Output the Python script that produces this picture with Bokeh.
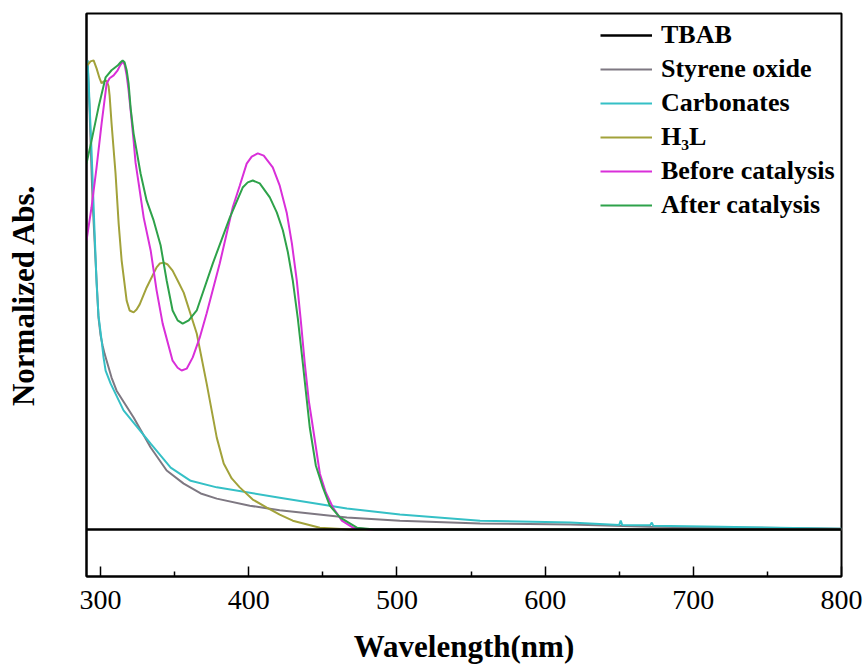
from bokeh.plotting import figure
from bokeh.models import Range1d, FixedTicker, Legend, LegendItem
from bokeh.embed import file_html
from bokeh.resources import INLINE

# ---- data (wavelength in nm, normalized absorbance) ----
wl_tbab = [290.5, 800.0]
ab_tbab = [0.0, 0.0]

wl_styrene = [291.2, 292.6, 293.2, 294.6, 296.6, 298.6, 300.0, 301.4, 302.7, 304.1,
              307.4, 310.8, 322.3, 333.8, 344.6, 356.1, 367.6, 378.4, 400.7, 420.9,
              466.2, 502.0, 556.1, 616.9, 670.9, 738.5, 800.0]
ab_styrene = [1.000, 0.893, 0.829, 0.701, 0.574, 0.452, 0.414, 0.392, 0.375, 0.360,
              0.324, 0.296, 0.239, 0.175, 0.126, 0.098, 0.077, 0.066, 0.051, 0.041,
              0.026, 0.019, 0.013, 0.011, 0.006, 0.004, 0.002]

wl_carb = [291.2, 291.9, 293.9, 295.9, 297.3, 298.6, 300.7, 302.0, 303.4, 306.8,
           315.5, 333.8, 347.3, 360.8, 378.4, 420.9, 466.2, 502.0, 556.1, 616.9,
           650.0, 651.0, 652.0, 670.9, 672.0, 673.0, 718.2, 800.0]
ab_carb = [1.000, 0.957, 0.808, 0.638, 0.525, 0.456, 0.403, 0.367, 0.339, 0.311,
           0.254, 0.183, 0.132, 0.104, 0.090, 0.068, 0.045, 0.032, 0.019, 0.015,
           0.010, 0.019, 0.010, 0.009, 0.015, 0.008, 0.006, 0.002]

wl_h3l = [291.2, 293.2, 295.3, 297.3, 299.3, 300.7, 302.0, 304.1, 305.4, 306.1,
          307.4, 310.1, 312.2, 314.2, 317.6, 319.6, 322.3, 324.3, 326.4, 331.1,
          337.8, 339.9, 342.6, 345.3, 348.6, 352.0, 356.1, 364.9, 371.6, 378.4,
          383.1, 388.5, 393.9, 402.7, 412.2, 420.9, 429.7, 448.0, 468.2, 800.0]
ab_h3l = [0.990, 0.998, 1.000, 0.983, 0.962, 0.951, 0.955, 0.957, 0.945, 0.925,
          0.866, 0.759, 0.652, 0.574, 0.488, 0.467, 0.463, 0.469, 0.480, 0.516,
          0.559, 0.567, 0.569, 0.565, 0.552, 0.531, 0.505, 0.418, 0.311, 0.196,
          0.141, 0.109, 0.090, 0.064, 0.047, 0.032, 0.019, 0.004, 0.000, 0.000]

wl_before = [290.5, 293.9, 297.3, 300.7, 304.1, 306.1, 308.8, 311.5, 313.5, 314.9,
             316.2, 317.6, 318.9, 320.3, 322.3, 323.6, 325.7, 329.1, 333.8, 337.8,
             341.9, 348.6, 352.0, 354.7, 358.1, 362.2, 366.9, 371.6, 380.4, 389.2,
             393.9, 398.6, 402.0, 406.1, 410.1, 416.2, 420.9, 425.7, 429.1, 432.4,
             435.1, 437.8, 440.5, 442.6, 448.0, 452.0, 456.8, 462.8, 470.3, 481.8,
             800.0]
ab_before = [0.616, 0.687, 0.772, 0.866, 0.951, 0.962, 0.968, 0.979, 0.991, 0.998,
             0.991, 0.968, 0.936, 0.893, 0.829, 0.782, 0.738, 0.665, 0.595, 0.510,
             0.439, 0.360, 0.345, 0.339, 0.343, 0.367, 0.409, 0.461, 0.567, 0.687,
             0.733, 0.780, 0.795, 0.802, 0.797, 0.772, 0.733, 0.674, 0.610, 0.531,
             0.446, 0.354, 0.275, 0.232, 0.119, 0.079, 0.047, 0.019, 0.004, 0.000,
             0.000]

wl_after = [290.5, 293.9, 298.6, 303.4, 307.4, 311.5, 313.5, 314.9, 316.2, 317.6,
            318.9, 320.3, 322.3, 327.0, 331.1, 335.8, 340.5, 344.6, 348.6, 352.0,
            355.4, 359.5, 364.9, 375.7, 387.2, 395.9, 399.3, 402.7, 407.4, 414.2,
            418.9, 423.0, 426.4, 429.7, 433.1, 436.5, 439.2, 441.2, 445.3, 450.0,
            454.7, 461.5, 473.0, 485.1, 800.0]
ab_after = [0.780, 0.829, 0.900, 0.964, 0.979, 0.989, 0.996, 1.000, 0.996, 0.979,
            0.951, 0.898, 0.844, 0.759, 0.701, 0.659, 0.606, 0.531, 0.467, 0.446,
            0.439, 0.446, 0.467, 0.567, 0.665, 0.729, 0.740, 0.744, 0.738, 0.708,
            0.676, 0.638, 0.591, 0.531, 0.450, 0.354, 0.275, 0.217, 0.136, 0.090,
            0.051, 0.026, 0.004, 0.000, 0.000]

x_ticks = [300, 400, 500, 600, 700, 800]
x_minor = [350, 450, 550, 650, 750]

SERIF = "Liberation Serif"

p = figure(width=867, height=666, output_backend="svg", toolbar_location=None,
           x_range=Range1d(290.5, 800), y_range=Range1d(-0.1, 1.1),
           min_border_left=86, min_border_right=26, min_border_top=13,
           min_border_bottom=90)
p.background_fill_color = "white"
p.border_fill_color = "white"
p.xgrid.visible = False
p.ygrid.visible = False
p.outline_line_color = "black"
p.outline_line_width = 2
p.outline_line_alpha = 1

r_sty = p.line(wl_styrene, ab_styrene, line_color="#7e7882", line_width=2)
r_carb = p.line(wl_carb, ab_carb, line_color="#35c0c6", line_width=2)
r_h3l = p.line(wl_h3l, ab_h3l, line_color="#a2a23a", line_width=2)
r_bef = p.line(wl_before, ab_before, line_color="#d92fd9", line_width=2)
r_aft = p.line(wl_after, ab_after, line_color="#2ea24a", line_width=2)
r_tbab = p.line(wl_tbab, ab_tbab, line_color="black", line_width=2.5)

xa = p.xaxis[0]
xa.ticker = FixedTicker(ticks=x_ticks, minor_ticks=x_minor)
xa.axis_line_width = 2
xa.major_tick_in = 10
xa.major_tick_out = 0
xa.minor_tick_in = 5
xa.minor_tick_out = 0
xa.major_tick_line_width = 1.5
xa.minor_tick_line_width = 1.5
xa.major_label_text_font = SERIF
xa.major_label_text_font_size = "28px"
xa.major_label_text_color = "black"
xa.major_label_standoff = 14
xa.axis_label = "Wavelength(nm)"
xa.axis_label_text_font = SERIF
xa.axis_label_text_font_style = "bold"
xa.axis_label_text_font_size = "31px"
xa.axis_label_text_color = "black"
xa.axis_label_standoff = 17

ya = p.yaxis[0]
ya.ticker = FixedTicker(ticks=[])
ya.axis_line_width = 2
ya.major_tick_in = 0
ya.major_tick_out = 0
ya.minor_tick_in = 0
ya.minor_tick_out = 0
ya.major_label_text_font_size = "0px"
ya.axis_label = "Normalized Abs."
ya.axis_label_text_font = SERIF
ya.axis_label_text_font_style = "bold"
ya.axis_label_text_font_size = "31px"
ya.axis_label_text_color = "black"
ya.axis_label_standoff = 46

legend = Legend(items=[
    LegendItem(label="TBAB", renderers=[r_tbab]),
    LegendItem(label="Styrene oxide", renderers=[r_sty]),
    LegendItem(label="Carbonates", renderers=[r_carb]),
    LegendItem(label="H\u2083L", renderers=[r_h3l]),
    LegendItem(label="Before catalysis", renderers=[r_bef]),
    LegendItem(label="After catalysis", renderers=[r_aft]),
], location=(514, 356))
legend.glyph_width = 52
legend.glyph_height = 24
legend.label_height = 24
legend.spacing = 4
legend.padding = 0
legend.margin = 0
legend.label_standoff = 9
legend.border_line_color = None
legend.background_fill_alpha = 0
legend.label_text_font = SERIF
legend.label_text_font_style = "bold"
legend.label_text_font_size = "26px"
legend.label_text_color = "black"
p.add_layout(legend)

open("out.html", "w").write(file_html(p, INLINE))
